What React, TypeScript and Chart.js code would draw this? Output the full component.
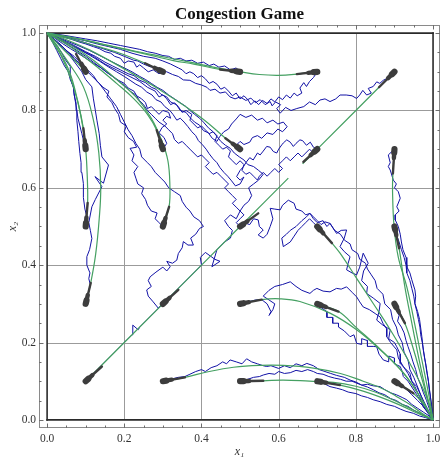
import React, { useEffect, useRef } from "react";
import { Chart, registerables } from "chart.js";

Chart.register(...registerables);

// ---------- texts and ticks ----------
const chartTitle = "Congestion Game";
const xTitle = "x₁";
const yTitle = "x₂";
const majorTicks = [0, 0.2, 0.4, 0.6, 0.8, 1.0];
const majorTickLabels = ["0.0", "0.2", "0.4", "0.6", "0.8", "1.0"];
const minorTicks = [0.05, 0.1, 0.15, 0.25, 0.3, 0.35, 0.45, 0.5, 0.55, 0.65, 0.7, 0.75, 0.85, 0.9, 0.95];
const gridValues = [0.2, 0.4, 0.6, 0.8];
const boundaryValues = [0, 1];

// ---------- deterministic trajectories (green), x1,x2 pairs ----------
const det_01_03 = [0.1, 0.3, 0.113, 0.354, 0.126, 0.43, 0.135, 0.52, 0.139, 0.6, 0.134, 0.69, 0.12, 0.775, 0.094, 0.861, 0.051, 0.93, 0.02, 0.975, 0, 1];
const det_01_05 = [0.1, 0.5, 0.105, 0.56, 0.104, 0.63, 0.1, 0.7, 0.092, 0.76, 0.078, 0.83, 0.058, 0.9, 0.03, 0.955, 0, 1];
const det_01_07 = [0.1, 0.7, 0.094, 0.754, 0.08, 0.82, 0.062, 0.88, 0.037, 0.94, 0.015, 0.975, 0, 1];
const det_01_09 = [0.1, 0.9, 0.073, 0.928, 0.045, 0.955, 0.02, 0.98, 0, 1];
const det_03_05 = [0.3, 0.5, 0.316, 0.551, 0.318, 0.61, 0.313, 0.67, 0.298, 0.72, 0.27, 0.78, 0.23, 0.835, 0.18, 0.88, 0.12, 0.93, 0.06, 0.97, 0, 1];
const det_03_07 = [0.3, 0.7, 0.284, 0.749, 0.26, 0.79, 0.225, 0.83, 0.18, 0.87, 0.12, 0.92, 0.06, 0.965, 0, 1];
const det_03_09 = [0.3, 0.9, 0.254, 0.922, 0.2, 0.944, 0.14, 0.963, 0.08, 0.98, 0.03, 0.993, 0, 1];
const det_05_07 = [0.5, 0.695, 0.466, 0.725, 0.396, 0.784, 0.293, 0.853, 0.206, 0.904, 0.111, 0.956, 0.05, 0.983, 0, 1];
const det_05_09 = [0.5, 0.9, 0.448, 0.906, 0.38, 0.92, 0.327, 0.929, 0.25, 0.947, 0.17, 0.965, 0.09, 0.983, 0, 1];
const det_07_09 = [0.7, 0.9, 0.647, 0.894, 0.6, 0.891, 0.55, 0.893, 0.5, 0.9, 0.44, 0.91, 0.37, 0.925, 0.31, 0.937, 0.22, 0.955, 0.137, 0.973, 0.06, 0.99, 0, 1];
const det_03_01 = [0.3, 0.1, 0.357, 0.11, 0.42, 0.125, 0.483, 0.136, 0.55, 0.141, 0.612, 0.141, 0.69, 0.134, 0.76, 0.12, 0.819, 0.1, 0.871, 0.08, 0.906, 0.06, 0.94, 0.04, 0.97, 0.018, 1, 0];
const det_05_01 = [0.5, 0.1, 0.56, 0.101, 0.612, 0.103, 0.68, 0.1, 0.742, 0.097, 0.8, 0.087, 0.85, 0.072, 0.9, 0.05, 0.95, 0.025, 1, 0];
const det_07_01 = [0.7, 0.1, 0.759, 0.09, 0.81, 0.077, 0.86, 0.06, 0.91, 0.04, 0.96, 0.017, 1, 0];
const det_09_01 = [0.9, 0.1, 0.949, 0.069, 0.975, 0.04, 1, 0];
const det_05_03 = [0.5, 0.3, 0.556, 0.311, 0.604, 0.313, 0.655, 0.306, 0.733, 0.276, 0.802, 0.233, 0.863, 0.181, 0.923, 0.121, 0.966, 0.06, 1, 0];
const det_07_03 = [0.7, 0.3, 0.755, 0.28, 0.802, 0.238, 0.863, 0.183, 0.923, 0.122, 0.966, 0.06, 1, 0];
const det_07_05 = [0.7, 0.5, 0.738, 0.457, 0.759, 0.431, 0.802, 0.366, 0.845, 0.301, 0.889, 0.233, 0.94, 0.146, 0.983, 0.06, 1, 0];
const det_09_03 = [0.9, 0.3, 0.927, 0.25, 0.95, 0.18, 0.97, 0.11, 0.987, 0.05, 1, 0];
const det_09_05 = [0.9, 0.5, 0.912, 0.444, 0.927, 0.344, 0.945, 0.25, 0.965, 0.15, 0.985, 0.06, 1, 0];
const det_09_07 = [0.9, 0.7, 0.896, 0.637, 0.895, 0.594, 0.899, 0.5, 0.91, 0.42, 0.932, 0.344, 0.95, 0.26, 0.97, 0.16, 0.988, 0.07, 1, 0];
const det_01_01 = [0.1, 0.1, 0.3, 0.3, 0.5, 0.5, 0.625, 0.625];
const det_09_09 = [0.9, 0.9, 0.7, 0.7, 0.662, 0.662];

// ---------- stochastic trajectories (blue) ----------
const sto_09_09 = [0.9, 0.9, 0.885, 0.885, 0.871, 0.878, 0.862, 0.87, 0.854, 0.874, 0.845, 0.862, 0.832, 0.857, 0.84, 0.845, 0.828, 0.84, 0.818, 0.852, 0.81, 0.84, 0.802, 0.831, 0.79, 0.838, 0.775, 0.84, 0.759, 0.84, 0.748, 0.83, 0.733, 0.823, 0.72, 0.83, 0.707, 0.827, 0.695, 0.815, 0.68, 0.822, 0.665, 0.81, 0.647, 0.805, 0.632, 0.8, 0.618, 0.808, 0.604, 0.793, 0.595, 0.805, 0.605, 0.815, 0.592, 0.822, 0.583, 0.812, 0.578, 0.823, 0.565, 0.815, 0.552, 0.828, 0.54, 0.82, 0.528, 0.832, 0.515, 0.826, 0.5, 0.835, 0.487, 0.83, 0.474, 0.835, 0.462, 0.848, 0.448, 0.845, 0.435, 0.855, 0.422, 0.852, 0.414, 0.86, 0.4, 0.866, 0.385, 0.87, 0.37, 0.878, 0.353, 0.879, 0.34, 0.888, 0.325, 0.893, 0.31, 0.9, 0.295, 0.904, 0.28, 0.912, 0.267, 0.913, 0.25, 0.92, 0.235, 0.928, 0.224, 0.93, 0.2, 0.94, 0.175, 0.95, 0.15, 0.958, 0.12, 0.968, 0.09, 0.978, 0.06, 0.987, 0.03, 0.994, 0, 1];
const sto_07_09 = [0.7, 0.9, 0.69, 0.885, 0.68, 0.875, 0.672, 0.862, 0.665, 0.872, 0.655, 0.858, 0.66, 0.845, 0.648, 0.838, 0.64, 0.845, 0.63, 0.832, 0.62, 0.84, 0.61, 0.828, 0.6, 0.835, 0.59, 0.822, 0.58, 0.83, 0.57, 0.818, 0.558, 0.826, 0.548, 0.815, 0.538, 0.825, 0.528, 0.815, 0.52, 0.828, 0.51, 0.838, 0.5, 0.83, 0.49, 0.845, 0.48, 0.838, 0.47, 0.85, 0.46, 0.86, 0.45, 0.855, 0.44, 0.868, 0.43, 0.875, 0.42, 0.87, 0.41, 0.882, 0.4, 0.89, 0.39, 0.885, 0.38, 0.895, 0.37, 0.9, 0.36, 0.895, 0.35, 0.905, 0.34, 0.91, 0.32, 0.92, 0.3, 0.928, 0.28, 0.935, 0.25, 0.94, 0.22, 0.948, 0.19, 0.958, 0.16, 0.965, 0.13, 0.972, 0.1, 0.98, 0.06, 0.989, 0.03, 0.995, 0, 1];
const sto_05_09 = [0.5, 0.9, 0.49, 0.91, 0.475, 0.905, 0.46, 0.915, 0.445, 0.912, 0.432, 0.92, 0.42, 0.916, 0.405, 0.925, 0.39, 0.922, 0.375, 0.93, 0.36, 0.928, 0.345, 0.935, 0.33, 0.932, 0.315, 0.94, 0.3, 0.942, 0.28, 0.948, 0.26, 0.952, 0.24, 0.958, 0.22, 0.962, 0.19, 0.968, 0.16, 0.974, 0.13, 0.98, 0.1, 0.985, 0.07, 0.99, 0.04, 0.995, 0, 1];
const sto_03_09 = [0.3, 0.9, 0.29, 0.895, 0.275, 0.905, 0.262, 0.9, 0.25, 0.91, 0.24, 0.918, 0.232, 0.912, 0.225, 0.925, 0.21, 0.928, 0.2, 0.922, 0.19, 0.935, 0.175, 0.94, 0.165, 0.948, 0.15, 0.952, 0.135, 0.96, 0.12, 0.965, 0.1, 0.972, 0.08, 0.978, 0.06, 0.985, 0.04, 0.99, 0.02, 0.996, 0, 1];
const sto_01_09 = [0.1, 0.9, 0.09, 0.91, 0.082, 0.925, 0.07, 0.93, 0.06, 0.945, 0.048, 0.955, 0.04, 0.965, 0.028, 0.975, 0.018, 0.985, 0.008, 0.993, 0, 1];
const sto_01_07 = [0.1, 0.7, 0.095, 0.72, 0.09, 0.74, 0.085, 0.76, 0.08, 0.78, 0.077, 0.8, 0.075, 0.82, 0.07, 0.84, 0.068, 0.861, 0.06, 0.88, 0.055, 0.9, 0.045, 0.915, 0.035, 0.935, 0.025, 0.955, 0.015, 0.975, 0, 1];
const sto_01_05 = [0.1, 0.5, 0.103, 0.525, 0.098, 0.545, 0.094, 0.575, 0.094, 0.611, 0.09, 0.64, 0.088, 0.665, 0.085, 0.689, 0.082, 0.72, 0.08, 0.745, 0.077, 0.775, 0.077, 0.801, 0.072, 0.83, 0.068, 0.86, 0.06, 0.885, 0.06, 0.914, 0.048, 0.93, 0.038, 0.948, 0.028, 0.965, 0.015, 0.98, 0, 1];
const sto_01_03 = [0.1, 0.3, 0.105, 0.32, 0.112, 0.35, 0.108, 0.365, 0.111, 0.38, 0.103, 0.4, 0.103, 0.422, 0.11, 0.44, 0.116, 0.469, 0.112, 0.49, 0.108, 0.51, 0.116, 0.551, 0.125, 0.57, 0.142, 0.603, 0.124, 0.629, 0.146, 0.612, 0.159, 0.659, 0.142, 0.68, 0.138, 0.71, 0.135, 0.74, 0.129, 0.775, 0.125, 0.8, 0.12, 0.83, 0.116, 0.861, 0.1, 0.88, 0.09, 0.9, 0.075, 0.92, 0.06, 0.94, 0.045, 0.955, 0.03, 0.97, 0.015, 0.985, 0, 1];
const sto_03_07 = [0.3, 0.7, 0.31, 0.715, 0.303, 0.73, 0.29, 0.742, 0.298, 0.756, 0.31, 0.765, 0.3, 0.775, 0.31, 0.785, 0.32, 0.78, 0.315, 0.795, 0.3, 0.8, 0.29, 0.79, 0.28, 0.8, 0.27, 0.81, 0.26, 0.805, 0.255, 0.82, 0.245, 0.83, 0.232, 0.838, 0.225, 0.85, 0.21, 0.858, 0.2, 0.87, 0.185, 0.878, 0.17, 0.888, 0.155, 0.898, 0.14, 0.91, 0.12, 0.922, 0.1, 0.935, 0.08, 0.948, 0.06, 0.96, 0.04, 0.973, 0.02, 0.987, 0, 1];
const sto_05_07 = [0.5, 0.7, 0.49, 0.71, 0.5, 0.72, 0.51, 0.712, 0.525, 0.718, 0.532, 0.73, 0.545, 0.735, 0.556, 0.728, 0.57, 0.742, 0.585, 0.738, 0.598, 0.752, 0.61, 0.745, 0.622, 0.758, 0.612, 0.77, 0.598, 0.765, 0.585, 0.775, 0.57, 0.768, 0.558, 0.78, 0.545, 0.775, 0.53, 0.788, 0.515, 0.782, 0.5, 0.79, 0.49, 0.778, 0.478, 0.765, 0.47, 0.752, 0.458, 0.745, 0.447, 0.732, 0.44, 0.72, 0.428, 0.728, 0.418, 0.742, 0.405, 0.748, 0.395, 0.762, 0.382, 0.77, 0.37, 0.782, 0.36, 0.795, 0.345, 0.8, 0.335, 0.815, 0.32, 0.822, 0.31, 0.835, 0.295, 0.842, 0.282, 0.855, 0.27, 0.86, 0.255, 0.872, 0.24, 0.878, 0.225, 0.89, 0.21, 0.895, 0.19, 0.905, 0.17, 0.915, 0.15, 0.925, 0.125, 0.94, 0.1, 0.952, 0.07, 0.968, 0.04, 0.982, 0, 1];
const sto_07_07 = [0.7, 0.7, 0.69, 0.705, 0.682, 0.718, 0.672, 0.71, 0.662, 0.722, 0.655, 0.724, 0.645, 0.715, 0.638, 0.707, 0.63, 0.718, 0.621, 0.724, 0.612, 0.716, 0.608, 0.711, 0.6, 0.7, 0.595, 0.69, 0.586, 0.694, 0.578, 0.705, 0.569, 0.707, 0.56, 0.695, 0.552, 0.685, 0.545, 0.69, 0.534, 0.672, 0.525, 0.678, 0.515, 0.665, 0.509, 0.655, 0.5, 0.645, 0.491, 0.629, 0.5, 0.62, 0.51, 0.628, 0.5, 0.61, 0.488, 0.605, 0.478, 0.618, 0.468, 0.63, 0.458, 0.64, 0.448, 0.652, 0.44, 0.665, 0.43, 0.675, 0.42, 0.688, 0.412, 0.7, 0.402, 0.712, 0.392, 0.722, 0.385, 0.735, 0.375, 0.745, 0.365, 0.758, 0.355, 0.77, 0.345, 0.78, 0.336, 0.775, 0.326, 0.79, 0.318, 0.8, 0.305, 0.81, 0.295, 0.822, 0.282, 0.828, 0.272, 0.84, 0.258, 0.848, 0.245, 0.86, 0.23, 0.868, 0.215, 0.878, 0.2, 0.888, 0.18, 0.9, 0.16, 0.912, 0.135, 0.928, 0.11, 0.943, 0.08, 0.96, 0.05, 0.976, 0.02, 0.99, 0, 1];
const sto_07_07b = [0.7, 0.7, 0.69, 0.69, 0.68, 0.7, 0.67, 0.69, 0.66, 0.68, 0.65, 0.69, 0.64, 0.68, 0.63, 0.67, 0.62, 0.68, 0.61, 0.67, 0.6, 0.66, 0.61, 0.65, 0.6, 0.64, 0.59, 0.65, 0.58, 0.64, 0.57, 0.63, 0.56, 0.64, 0.55, 0.63, 0.545, 0.62, 0.535, 0.63, 0.525, 0.64, 0.515, 0.635, 0.505, 0.645, 0.51, 0.66, 0.5, 0.67, 0.49, 0.66, 0.48, 0.67, 0.47, 0.68, 0.475, 0.695, 0.465, 0.705, 0.455, 0.7, 0.445, 0.71, 0.435, 0.72, 0.44, 0.735, 0.43, 0.745, 0.42, 0.74, 0.41, 0.75, 0.4, 0.76, 0.39, 0.755, 0.38, 0.765, 0.37, 0.775, 0.375, 0.79, 0.36, 0.8, 0.35, 0.795, 0.34, 0.81, 0.33, 0.82, 0.32, 0.815, 0.31, 0.83, 0.3, 0.84, 0.29, 0.835, 0.28, 0.85, 0.26, 0.86, 0.24, 0.875, 0.22, 0.885, 0.2, 0.895, 0.18, 0.905, 0.15, 0.92, 0.12, 0.94, 0.09, 0.955, 0.06, 0.97, 0.03, 0.985, 0, 1];
const sto_01_01 = [0.1, 0.1, 0.16, 0.16, 0.22, 0.22, 0.222, 0.245, 0.236, 0.233, 0.24, 0.24, 0.3, 0.3, 0.4, 0.4, 0.397, 0.42, 0.41, 0.433, 0.435, 0.415, 0.448, 0.41, 0.427, 0.396, 0.44, 0.44, 0.46, 0.46, 0.475, 0.47, 0.48, 0.49, 0.47, 0.5, 0.46, 0.515, 0.475, 0.53, 0.49, 0.52, 0.5, 0.54, 0.51, 0.555, 0.522, 0.565, 0.53, 0.58, 0.522, 0.6, 0.535, 0.61, 0.548, 0.62, 0.56, 0.635, 0.548, 0.645, 0.535, 0.655, 0.52, 0.66, 0.51, 0.672, 0.498, 0.68, 0.485, 0.69, 0.475, 0.702, 0.462, 0.71, 0.45, 0.72, 0.44, 0.733, 0.43, 0.745, 0.418, 0.755, 0.405, 0.77, 0.395, 0.78, 0.382, 0.79, 0.37, 0.8, 0.36, 0.81, 0.345, 0.82, 0.33, 0.83, 0.315, 0.84, 0.3, 0.852, 0.285, 0.86, 0.27, 0.87, 0.255, 0.88, 0.24, 0.888, 0.22, 0.9, 0.2, 0.91, 0.17, 0.925, 0.14, 0.94, 0.11, 0.955, 0.08, 0.968, 0.05, 0.98, 0.02, 0.993, 0, 1];
const sto_03_03 = [0.3, 0.3, 0.288, 0.289, 0.275, 0.305, 0.262, 0.32, 0.258, 0.336, 0.27, 0.345, 0.262, 0.36, 0.267, 0.37, 0.282, 0.382, 0.3, 0.395, 0.31, 0.385, 0.319, 0.396, 0.31, 0.41, 0.325, 0.405, 0.336, 0.413, 0.34, 0.43, 0.35, 0.445, 0.353, 0.461, 0.365, 0.452, 0.379, 0.452, 0.372, 0.47, 0.385, 0.48, 0.395, 0.495, 0.405, 0.5, 0.395, 0.515, 0.38, 0.525, 0.37, 0.54, 0.36, 0.55, 0.35, 0.565, 0.345, 0.58, 0.33, 0.59, 0.315, 0.6, 0.305, 0.615, 0.295, 0.625, 0.28, 0.64, 0.27, 0.655, 0.26, 0.665, 0.245, 0.68, 0.24, 0.7, 0.23, 0.715, 0.22, 0.735, 0.21, 0.75, 0.2, 0.77, 0.19, 0.79, 0.18, 0.81, 0.165, 0.83, 0.15, 0.85, 0.135, 0.87, 0.115, 0.89, 0.095, 0.91, 0.07, 0.935, 0.045, 0.96, 0.02, 0.98, 0, 1];
const sto_03_05 = [0.3, 0.5, 0.29, 0.51, 0.28, 0.52, 0.285, 0.535, 0.27, 0.54, 0.26, 0.555, 0.255, 0.57, 0.245, 0.585, 0.25, 0.6, 0.235, 0.61, 0.23, 0.625, 0.225, 0.64, 0.235, 0.655, 0.22, 0.67, 0.225, 0.685, 0.215, 0.702, 0.232, 0.705, 0.224, 0.72, 0.21, 0.73, 0.2, 0.745, 0.205, 0.76, 0.19, 0.77, 0.185, 0.79, 0.175, 0.805, 0.168, 0.82, 0.155, 0.835, 0.16, 0.85, 0.145, 0.86, 0.13, 0.875, 0.12, 0.89, 0.105, 0.905, 0.09, 0.92, 0.07, 0.94, 0.05, 0.955, 0.03, 0.975, 0.01, 0.99, 0, 1];
const sto_05_05 = [0.5, 0.5, 0.51, 0.51, 0.525, 0.505, 0.535, 0.52, 0.547, 0.517, 0.55, 0.5, 0.56, 0.491, 0.547, 0.478, 0.56, 0.47, 0.57, 0.48, 0.578, 0.5, 0.585, 0.52, 0.578, 0.547, 0.59, 0.545, 0.604, 0.543, 0.61, 0.555, 0.625, 0.568, 0.64, 0.56, 0.645, 0.545, 0.66, 0.54, 0.67, 0.53, 0.681, 0.534, 0.69, 0.52, 0.7, 0.51, 0.715, 0.515, 0.725, 0.5, 0.733, 0.508, 0.745, 0.49, 0.76, 0.48, 0.77, 0.465, 0.785, 0.455, 0.79, 0.44, 0.805, 0.43, 0.81, 0.415, 0.825, 0.405, 0.83, 0.39, 0.84, 0.375, 0.85, 0.36, 0.855, 0.34, 0.87, 0.325, 0.875, 0.3, 0.89, 0.285, 0.895, 0.26, 0.905, 0.24, 0.91, 0.22, 0.92, 0.2, 0.925, 0.175, 0.935, 0.155, 0.94, 0.13, 0.95, 0.11, 0.96, 0.085, 0.97, 0.06, 0.98, 0.035, 0.99, 0.015, 1, 0];
const sto_05_05b = [0.5, 0.5, 0.49, 0.51, 0.5, 0.52, 0.51, 0.53, 0.5, 0.54, 0.49, 0.55, 0.48, 0.56, 0.49, 0.57, 0.48, 0.58, 0.47, 0.59, 0.46, 0.6, 0.47, 0.61, 0.46, 0.62, 0.45, 0.63, 0.44, 0.64, 0.43, 0.635, 0.42, 0.645, 0.41, 0.655, 0.42, 0.665, 0.41, 0.675, 0.4, 0.685, 0.39, 0.68, 0.38, 0.69, 0.37, 0.7, 0.36, 0.71, 0.35, 0.72, 0.34, 0.715, 0.33, 0.725, 0.325, 0.74, 0.315, 0.75, 0.305, 0.76, 0.29, 0.77, 0.28, 0.78, 0.27, 0.79, 0.26, 0.8, 0.25, 0.815, 0.24, 0.825, 0.23, 0.84, 0.215, 0.85, 0.2, 0.865, 0.18, 0.88, 0.16, 0.895, 0.14, 0.91, 0.12, 0.925, 0.1, 0.94, 0.07, 0.96, 0.04, 0.978, 0, 1];
const sto_07_05 = [0.7, 0.5, 0.69, 0.51, 0.68, 0.52, 0.67, 0.51, 0.66, 0.5, 0.65, 0.49, 0.64, 0.475, 0.63, 0.46, 0.612, 0.448, 0.608, 0.47, 0.62, 0.48, 0.63, 0.49, 0.645, 0.5, 0.66, 0.515, 0.672, 0.525, 0.681, 0.534, 0.69, 0.525, 0.7, 0.515, 0.71, 0.505, 0.72, 0.512, 0.733, 0.508, 0.75, 0.482, 0.762, 0.49, 0.776, 0.491, 0.77, 0.47, 0.759, 0.448, 0.77, 0.435, 0.785, 0.422, 0.78, 0.405, 0.776, 0.388, 0.79, 0.38, 0.802, 0.375, 0.81, 0.395, 0.819, 0.431, 0.832, 0.405, 0.82, 0.385, 0.815, 0.36, 0.83, 0.345, 0.828, 0.327, 0.845, 0.315, 0.863, 0.301, 0.86, 0.28, 0.854, 0.258, 0.87, 0.245, 0.889, 0.233, 0.885, 0.21, 0.9, 0.2, 0.906, 0.189, 0.915, 0.17, 0.915, 0.146, 0.93, 0.13, 0.94, 0.121, 0.945, 0.1, 0.953, 0.086, 0.965, 0.06, 0.974, 0.034, 0.99, 0.015, 1, 0];
const sto_03_01 = [0.3, 0.1, 0.32, 0.105, 0.34, 0.11, 0.357, 0.112, 0.37, 0.118, 0.385, 0.125, 0.4, 0.13, 0.41, 0.125, 0.425, 0.135, 0.44, 0.14, 0.455, 0.15, 0.465, 0.145, 0.474, 0.155, 0.49, 0.15, 0.505, 0.145, 0.517, 0.158, 0.53, 0.15, 0.545, 0.145, 0.56, 0.14, 0.569, 0.138, 0.58, 0.14, 0.6, 0.133, 0.615, 0.14, 0.63, 0.135, 0.645, 0.145, 0.66, 0.14, 0.673, 0.146, 0.69, 0.14, 0.705, 0.13, 0.72, 0.125, 0.735, 0.12, 0.75, 0.115, 0.77, 0.11, 0.785, 0.103, 0.8, 0.098, 0.815, 0.09, 0.83, 0.085, 0.845, 0.078, 0.86, 0.07, 0.875, 0.065, 0.89, 0.055, 0.905, 0.05, 0.92, 0.04, 0.935, 0.035, 0.95, 0.025, 0.97, 0.015, 0.985, 0.007, 1, 0];
const sto_05_01 = [0.5, 0.1, 0.52, 0.105, 0.535, 0.11, 0.55, 0.112, 0.56, 0.116, 0.575, 0.12, 0.59, 0.118, 0.6, 0.125, 0.615, 0.12, 0.63, 0.122, 0.645, 0.128, 0.66, 0.125, 0.675, 0.13, 0.69, 0.125, 0.7, 0.12, 0.715, 0.118, 0.73, 0.112, 0.745, 0.108, 0.76, 0.105, 0.775, 0.1, 0.79, 0.1, 0.802, 0.095, 0.815, 0.09, 0.83, 0.092, 0.845, 0.088, 0.863, 0.086, 0.875, 0.078, 0.89, 0.07, 0.905, 0.065, 0.92, 0.058, 0.932, 0.052, 0.945, 0.04, 0.96, 0.03, 0.975, 0.02, 0.99, 0.01, 1, 0];
const sto_07_01 = [0.7, 0.1, 0.715, 0.095, 0.733, 0.086, 0.75, 0.082, 0.765, 0.078, 0.78, 0.072, 0.8, 0.068, 0.815, 0.062, 0.83, 0.058, 0.845, 0.052, 0.863, 0.047, 0.88, 0.04, 0.9, 0.035, 0.915, 0.028, 0.93, 0.022, 0.949, 0.017, 0.965, 0.01, 0.98, 0.006, 1, 0];
const sto_09_01 = [0.9, 0.1, 0.915, 0.09, 0.93, 0.08, 0.945, 0.065, 0.96, 0.05, 0.975, 0.035, 0.988, 0.018, 1, 0];
const sto_05_03 = [0.5, 0.3, 0.52, 0.305, 0.54, 0.31, 0.556, 0.311, 0.57, 0.3, 0.58, 0.28, 0.575, 0.27, 0.585, 0.285, 0.59, 0.3, 0.575, 0.31, 0.56, 0.32, 0.575, 0.335, 0.59, 0.345, 0.61, 0.35, 0.63, 0.357, 0.645, 0.345, 0.66, 0.335, 0.681, 0.327, 0.69, 0.335, 0.699, 0.34, 0.715, 0.333, 0.733, 0.331, 0.75, 0.34, 0.762, 0.338, 0.776, 0.344, 0.79, 0.33, 0.802, 0.318, 0.81, 0.305, 0.819, 0.292, 0.835, 0.285, 0.85, 0.275, 0.863, 0.266, 0.87, 0.25, 0.88, 0.235, 0.88, 0.215, 0.89, 0.2, 0.906, 0.181, 0.91, 0.16, 0.923, 0.138, 0.935, 0.12, 0.945, 0.1, 0.958, 0.086, 0.97, 0.06, 0.985, 0.03, 1, 0];
const sto_07_03 = [0.7, 0.3, 0.71, 0.29, 0.725, 0.28, 0.725, 0.265, 0.74, 0.265, 0.74, 0.25, 0.755, 0.25, 0.755, 0.24, 0.77, 0.23, 0.785, 0.215, 0.795, 0.22, 0.802, 0.198, 0.815, 0.195, 0.815, 0.21, 0.83, 0.205, 0.83, 0.19, 0.845, 0.19, 0.854, 0.189, 0.86, 0.17, 0.871, 0.155, 0.885, 0.15, 0.885, 0.165, 0.9, 0.16, 0.9, 0.145, 0.915, 0.138, 0.92, 0.125, 0.923, 0.112, 0.935, 0.1, 0.945, 0.085, 0.958, 0.065, 0.97, 0.045, 0.985, 0.02, 1, 0];
const sto_09_03 = [0.9, 0.3, 0.905, 0.285, 0.912, 0.27, 0.908, 0.255, 0.918, 0.24, 0.925, 0.225, 0.93, 0.205, 0.935, 0.19, 0.942, 0.17, 0.948, 0.15, 0.955, 0.13, 0.96, 0.11, 0.968, 0.09, 0.975, 0.07, 0.983, 0.05, 0.99, 0.03, 1, 0];
const sto_09_05 = [0.9, 0.5, 0.905, 0.48, 0.912, 0.46, 0.918, 0.44, 0.925, 0.42, 0.93, 0.4, 0.932, 0.38, 0.94, 0.36, 0.945, 0.34, 0.95, 0.32, 0.953, 0.3, 0.958, 0.28, 0.962, 0.26, 0.966, 0.24, 0.968, 0.22, 0.972, 0.2, 0.975, 0.18, 0.978, 0.16, 0.982, 0.14, 0.985, 0.12, 0.988, 0.1, 0.99, 0.08, 0.993, 0.06, 0.996, 0.04, 0.998, 0.02, 1, 0];
const sto_09_07 = [0.9, 0.7, 0.884, 0.685, 0.889, 0.665, 0.884, 0.655, 0.889, 0.646, 0.897, 0.62, 0.905, 0.61, 0.9, 0.6, 0.91, 0.59, 0.915, 0.573, 0.906, 0.551, 0.912, 0.54, 0.902, 0.53, 0.902, 0.517, 0.91, 0.5, 0.915, 0.48, 0.918, 0.46, 0.922, 0.44, 0.93, 0.42, 0.932, 0.396, 0.94, 0.38, 0.945, 0.362, 0.953, 0.336, 0.955, 0.32, 0.953, 0.301, 0.96, 0.28, 0.965, 0.26, 0.971, 0.215, 0.975, 0.18, 0.98, 0.15, 0.983, 0.129, 0.988, 0.1, 0.992, 0.07, 0.996, 0.035, 1, 0];

// ---------- start markers: start point and tip point ----------
const markerStart = [
  [0.1, 0.1], [0.3, 0.3], [0.5, 0.5], [0.7, 0.7], [0.9, 0.9],
  [0.1, 0.3], [0.1, 0.5], [0.1, 0.7], [0.1, 0.9],
  [0.3, 0.5], [0.3, 0.7], [0.3, 0.9], [0.5, 0.7], [0.5, 0.9], [0.7, 0.9],
  [0.3, 0.1], [0.5, 0.1], [0.7, 0.1], [0.9, 0.1],
  [0.5, 0.3], [0.7, 0.3], [0.9, 0.3], [0.7, 0.5], [0.9, 0.5], [0.9, 0.7],
];
const markerTip = [
  [0.142, 0.138], [0.34, 0.336], [0.547, 0.534], [0.664, 0.667], [0.86, 0.86],
  [0.113, 0.354], [0.105, 0.561], [0.094, 0.754], [0.075, 0.946],
  [0.316, 0.551], [0.284, 0.749], [0.254, 0.922], [0.462, 0.728], [0.448, 0.906], [0.647, 0.894],
  [0.357, 0.11], [0.56, 0.101], [0.759, 0.09], [0.949, 0.069],
  [0.556, 0.311], [0.755, 0.28], [0.927, 0.25], [0.738, 0.457], [0.912, 0.444], [0.896, 0.637],
];

const deterministic = [det_01_03, det_01_05, det_01_07, det_01_09, det_03_05, det_03_07, det_03_09, det_05_07, det_05_09, det_07_09, det_03_01, det_05_01, det_07_01, det_09_01, det_05_03, det_07_03, det_07_05, det_09_03, det_09_05, det_09_07, det_01_01, det_09_09];
const stochastic = [sto_09_09, sto_07_09, sto_05_09, sto_03_09, sto_01_09, sto_01_07, sto_01_05, sto_01_03, sto_03_07, sto_05_07, sto_07_07, sto_07_07b, sto_01_01, sto_03_03, sto_03_05, sto_05_05, sto_05_05b, sto_07_05, sto_03_01, sto_05_01, sto_07_01, sto_09_01, sto_05_03, sto_07_03, sto_09_03, sto_09_05, sto_09_07];

const SERIF = '"Liberation Serif", "Times New Roman", Times, serif';
const BLUE = "#1212a6";
const GREEN = "#45a062";
const MARK = "#3d3d3d";

const toPoints = (flat: number[]) => {
  const out: { x: number; y: number }[] = [];
  for (let i = 0; i < flat.length; i += 2) out.push({ x: flat[i], y: flat[i + 1] });
  return out;
};

const framePlugin = {
  id: "mmaFrame",
  beforeDatasetsDraw(chart: any) {
    const { ctx, chartArea: a, scales } = chart;
    const xs = scales.x;
    const ys = scales.y;
    const r = (v: number) => Math.round(v) + 0.5;
    const line = (x1: number, y1: number, x2: number, y2: number) => {
      ctx.beginPath();
      ctx.moveTo(x1, y1);
      ctx.lineTo(x2, y2);
      ctx.stroke();
    };
    ctx.save();
    const x0 = xs.getPixelForValue(0), x1 = xs.getPixelForValue(1);
    const y0 = ys.getPixelForValue(0), y1 = ys.getPixelForValue(1);
    ctx.strokeStyle = "#9b9b9b";
    ctx.lineWidth = 1;
    for (const g of gridValues) {
      const px = r(xs.getPixelForValue(g));
      line(px, y1, px, y0);
      const py = r(ys.getPixelForValue(g));
      line(x0, py, x1, py);
    }
    ctx.strokeStyle = "#2a2a2a";
    ctx.lineWidth = 1.6;
    for (const b of boundaryValues) {
      const px = xs.getPixelForValue(b);
      line(px, y1 - 0.8, px, y0 + 0.8);
      const py = ys.getPixelForValue(b);
      line(x0 - 0.8, py, x1 + 0.8, py);
    }
    ctx.strokeStyle = "#8a8a8a";
    ctx.lineWidth = 1;
    ctx.strokeRect(r(a.left), r(a.top), Math.round(a.right) - Math.round(a.left) - 1, Math.round(a.bottom) - Math.round(a.top) - 1);
    ctx.strokeStyle = "#6e6e6e";
    const drawTicks = (vals: number[], len: number) => {
      for (const v of vals) {
        const px = r(xs.getPixelForValue(v));
        line(px, a.bottom, px, a.bottom - len);
        line(px, a.top, px, a.top + len);
        const py = r(ys.getPixelForValue(v));
        line(a.left, py, a.left + len, py);
        line(a.right, py, a.right - len, py);
      }
    };
    drawTicks(majorTicks, 4.5);
    drawTicks(minorTicks, 2.5);
    ctx.restore();
  },
};

export default function App() {
  const ref = useRef<HTMLCanvasElement>(null);
  useEffect(() => {
    const canvas = ref.current;
    if (!canvas) return;
    const datasets: any[] = [];
    stochastic.forEach((p) =>
      datasets.push({ data: toPoints(p), showLine: true, borderColor: BLUE, borderWidth: 1, pointRadius: 0, tension: 0, order: 3, borderJoinStyle: "miter" })
    );
    deterministic.forEach((p) =>
      datasets.push({ data: toPoints(p), showLine: true, borderColor: GREEN, borderWidth: 1.2, pointRadius: 0, tension: 0.4, order: 2 })
    );
    markerStart.forEach((s, i) => {
      const pts = [{ x: s[0], y: s[1] }, { x: markerTip[i][0], y: markerTip[i][1] }];
      datasets.push({ data: pts, showLine: true, borderColor: MARK, borderWidth: 2.4, pointRadius: 0, borderCapStyle: "round", order: 1 });
      datasets.push({ data: pts, showLine: true, borderColor: MARK, borderWidth: 4.4, pointRadius: 0, borderCapStyle: "round", borderDash: [9, 400], order: 1 });
      datasets.push({ data: pts, showLine: true, borderColor: MARK, borderWidth: 6.2, pointRadius: 0, borderCapStyle: "round", borderDash: [3.5, 400], order: 1 });
    });

    const chart = new Chart(canvas, {
      type: "scatter",
      data: { datasets },
      plugins: [framePlugin],
      options: {
        animation: false,
        responsive: false,
        devicePixelRatio: 1,
        layout: { padding: { left: 0, right: 3, top: 0, bottom: 0 } },
        plugins: {
          legend: { display: false },
          tooltip: { enabled: false },
          title: {
            display: true,
            text: chartTitle,
            fullSize: false,
            color: "#111",
            font: { family: SERIF, size: 17, weight: "bold" },
            padding: { top: 4, bottom: 0.6 },
          },
        },
        scales: {
          x: {
            type: "linear",
            min: -0.021,
            max: 1.018,
            afterBuildTicks: (s: any) => {
              s.ticks = majorTicks.map((v) => ({ value: v }));
            },
            afterFit: (s: any) => {
              s.height = 31;
              s.paddingLeft = 0;
              s.paddingRight = 0;
            },
            grid: { display: false, drawTicks: false },
            border: { display: false },
            ticks: {
              autoSkip: false,
              maxRotation: 0,
              padding: 4,
              color: "#333",
              font: { family: SERIF, size: 11.5 },
              callback: (_v: any, i: number) => majorTickLabels[i],
            },
            title: {
              display: true,
              text: xTitle,
              color: "#333",
              font: { family: SERIF, size: 12, style: "italic" },
              padding: { top: 0, bottom: 0 },
            },
          },
          y: {
            type: "linear",
            min: -0.021,
            max: 1.021,
            afterBuildTicks: (s: any) => {
              s.ticks = majorTicks.map((v) => ({ value: v }));
            },
            afterFit: (s: any) => {
              s.width = 39;
              s.paddingTop = 0;
              s.paddingBottom = 0;
            },
            grid: { display: false, drawTicks: false },
            border: { display: false },
            ticks: {
              autoSkip: false,
              padding: 3,
              color: "#333",
              font: { family: SERIF, size: 11.5 },
              callback: (_v: any, i: number) => majorTickLabels[i],
            },
            title: {
              display: true,
              text: yTitle,
              color: "#333",
              font: { family: SERIF, size: 12, style: "italic" },
              padding: { top: 6, bottom: 0 },
            },
          },
        },
      } as any,
    });
    return () => chart.destroy();
  }, []);

  return (
    <div style={{ position: "fixed", left: 0, top: 0, width: 443, height: 459, background: "#fff" }}>
      <canvas ref={ref} width={443} height={459} style={{ display: "block", width: 443, height: 459 }} />
    </div>
  );
}
